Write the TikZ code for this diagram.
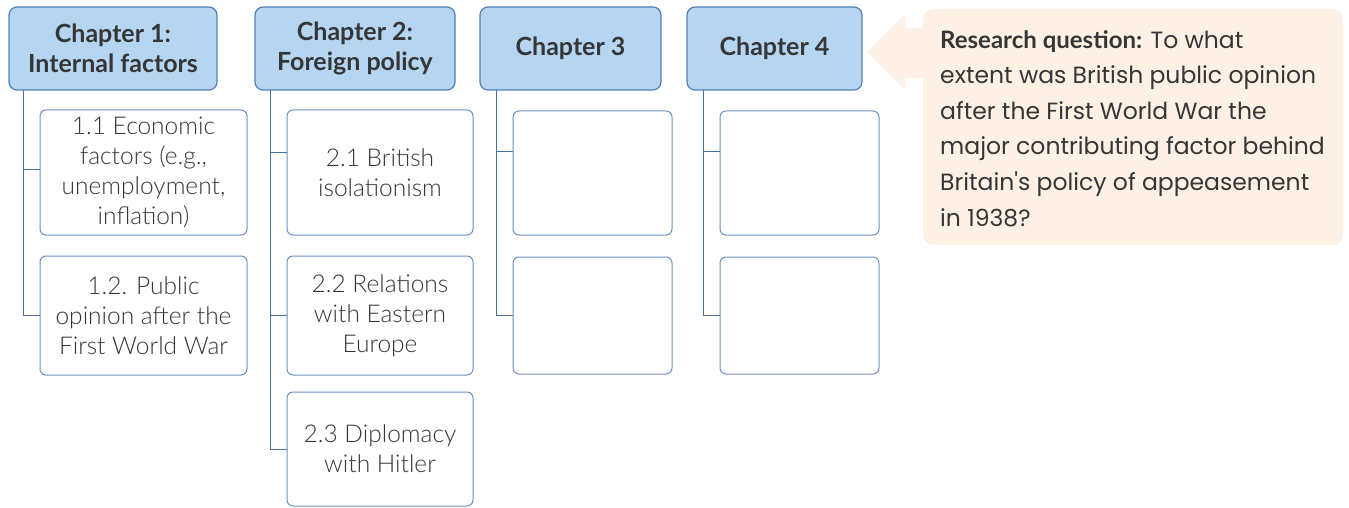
\documentclass[tikz,border=0pt]{standalone}
\usepackage{fontspec}
\setmainfont{Lato}
\newfontfamily\lightfont{Lato Light}
\newfontfamily\handfont{Poppins}
\definecolor{hdrfill}{HTML}{B5D5F0}
\definecolor{hdrdraw}{HTML}{4F7FB8}
\definecolor{boxdraw}{HTML}{6A8FC2}
\definecolor{linecol}{HTML}{4A6FA5}
\definecolor{txt}{HTML}{363636}
\definecolor{peach}{HTML}{FDF0E5}
\begin{document}
\begin{tikzpicture}[x=1pt,y=-1pt,
  hdr/.style={draw=hdrdraw,fill=hdrfill,line width=1.2pt,rounded corners=8pt,
    inner sep=0pt,align=center,text=txt,font=\fontsize{25}{30}\selectfont\bfseries,minimum height=83pt},
  sub/.style={draw=boxdraw,line width=1pt,rounded corners=6pt,inner sep=0pt,align=center,
    text=txt,font=\lightfont\fontsize{24.5}{30}\selectfont,minimum width=#1},
  conn/.style={draw=linecol,line width=1pt}]
\useasboundingbox (0,0) rectangle (1349,508);
% research question
\fill[peach,rounded corners=10pt] (923,9) rectangle (1343,245);
\fill[peach] (867,52) -- (905,14) -- (905,28) -- (924,28) -- (924,78) -- (905,78) -- (905,90) -- cycle;
\node[anchor=north west,align=left,text=txt,inner sep=0pt,font=\handfont\fontsize{23.5}{35.6}\selectfont] (rq) at (940,30)
 {{\fontsize{24}{35.6}\selectfont\rmfamily\bfseries Research question:} To what\\extent was British public opinion\\after the First World War the\\major contributing factor behind\\Britain's policy of appeasement\\in 1938?};
% headers
\node[hdr,minimum width=208pt] (h1) at (113,48.5) {Chapter 1:\\Internal factors};
\node[hdr,minimum width=200pt] (h2) at (355,48.5) {Chapter 2:\\Foreign policy};
\node[hdr,minimum width=181pt] (h3) at (570.5,48.5) {Chapter 3};
\node[hdr,minimum width=175pt] (h4) at (774.5,48.5) {Chapter 4};
% sub boxes
\node[sub=207pt,minimum height=125pt] (s11) at (143.5,172.5) {1.1 Economic\\factors (e.g.,\\unemployment,\\inflation)};
\node[sub=207pt,minimum height=119pt] (s12) at (143.5,315.5) {1.2. Public\\opinion after the\\First World War};
\node[sub=186pt,minimum height=125pt] (s21) at (380,172.5) {2.1 British\\isolationism};
\node[sub=186pt,minimum height=119pt] (s22) at (380,315.5) {2.2 Relations\\with Eastern\\Europe};
\node[sub=186pt,minimum height=114pt] (s23) at (380,449) {2.3 Diplomacy\\with Hitler};
\node[sub=159pt,minimum height=124pt] (s31) at (592.5,173) {};
\node[sub=159pt,minimum height=117pt] (s32) at (592.5,315.5) {};
\node[sub=159pt,minimum height=124pt] (s41) at (799.5,173) {};
\node[sub=159pt,minimum height=117pt] (s42) at (799.5,315.5) {};
% connectors
\coordinate (c1) at (23,90);
\coordinate (c2) at (270,90);
\coordinate (c3) at (496,90);
\coordinate (c4) at (703,90);
\draw[conn] (c1) |- (s12.west);
\draw[conn] (c1 |- s11.west) ++(0,-3) coordinate (t11) -- (t11 -| s11.west);
\draw[conn] (c2) |- (s23.west);
\draw[conn] (c2 |- s21.west) ++(0,-20) coordinate (t21) -- (t21 -| s21.west);
\draw[conn] (c2 |- s22.west) -- (s22.west);
\draw[conn] (c3) |- (s32.west);
\draw[conn] (c3 |- s31.west) ++(0,-21) coordinate (t31) -- (t31 -| s31.west);
\draw[conn] (c4) |- (s42.west);
\draw[conn] (c4 |- s41.west) ++(0,-21) coordinate (t41) -- (t41 -| s41.west);
\end{tikzpicture}
\end{document}
